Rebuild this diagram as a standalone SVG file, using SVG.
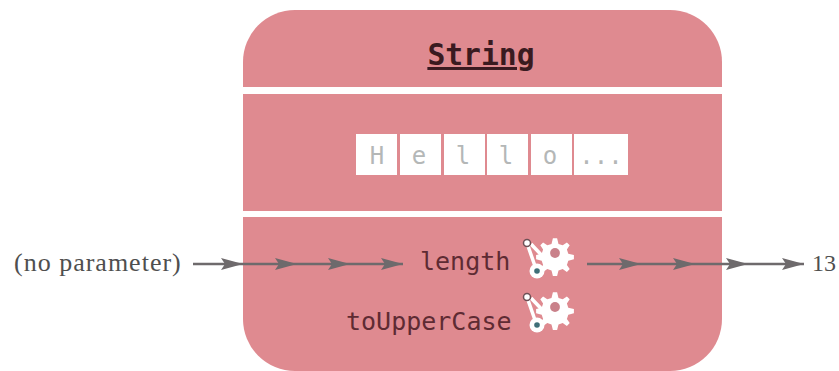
<svg xmlns="http://www.w3.org/2000/svg" width="839" height="371" viewBox="0 0 839 371">
<style>
.mono{font-family:"DejaVu Sans Mono",monospace}
.serif{font-family:"Liberation Serif",serif;font-size:26px;fill:#4f4f4f}
.cell{fill:#fff}
.ch{font-size:24px;fill:#b4b7b7;text-anchor:middle}
.m{font-size:25px;fill:#5e2b33}
.line{stroke:#6e6a6c;stroke-width:2.500;fill:none}
.head{fill:#6e6a6c}
.gear{fill:#fff}
</style>
<defs>
<marker id="a" markerWidth="22" markerHeight="12" refX="22" refY="6" orient="auto" markerUnits="userSpaceOnUse"><path d="M0 0L22 6L0 12L4 6Z" class="head"/></marker>
<g id="g">
<g transform="translate(28 10) scale(1.4) translate(-30.500 -3.500)">
<path d="M29 -7l3 0 1 4 3 1 3-2 2 2-2 3 1 3 4 1 0 3-4 1-1 3 2 3-2 2-3-2-3 1-1 4-3 0-1-4-3-1-3 2-2-2 2-3-1-3-4-1 0-3 4-1 1-3-2-3 2-2 3 2 3-1z" class="gear"/>
<circle cx="30.500" cy="3.500" r="3.500" fill="#c9818a"/>
</g>
<path d="M1 3L9 26M4 1L22 20M9 22L14 28" stroke="#fff" stroke-width="3.500" fill="none"/>
<circle cx="10" cy="28" r="7.500" fill="#fff"/>
<circle cx="10" cy="28" r="2.800" fill="#3f6f78"/>
<circle cx="0" cy="0" r="3.500" fill="#fff" stroke="#6e5056" stroke-width="1.500"/>
</g>
</defs>
<g id="string-object">
<rect x="243" y="10" width="479" height="361" rx="52" fill="#df8a90"/>
<rect x="243" y="87" width="479" height="7" fill="#fff"/>
<rect x="243" y="211" width="479" height="6" fill="#fff"/>
</g>
<g id="title"><text class="mono" x="481" y="65" text-anchor="middle" font-size="29.700" font-weight="700" fill="#3a1a20" text-decoration="underline">String</text></g>
<g id="value">
<rect class="cell" x="356" y="134" width="41" height="41"/>
<rect class="cell" x="400" y="134" width="41" height="41"/>
<rect class="cell" x="444" y="134" width="41" height="41"/>
<rect class="cell" x="487" y="134" width="41" height="41"/>
<rect class="cell" x="531" y="134" width="41" height="41"/>
<rect class="cell" x="574" y="134" width="54" height="41"/>
<g class="mono">
<text class="ch" x="377" y="164">H</text>
<text class="ch" x="419" y="164">e</text>
<text class="ch" x="463" y="164">l</text>
<text class="ch" x="506" y="164">l</text>
<text class="ch" x="550" y="164">o</text>
<text class="ch" x="601" y="164">...</text>
</g>
</g>
<g id="connectors">
<path class="line" d="M193 264H243" marker-end="url(#a)"/>
<path class="line" d="M243 264H297" marker-end="url(#a)"/>
<path class="line" d="M297 264H350" marker-end="url(#a)"/>
<path class="line" d="M350 264H403" marker-end="url(#a)"/>
<path class="line" d="M587 264H641" marker-end="url(#a)"/>
<path class="line" d="M641 264H695" marker-end="url(#a)"/>
<path class="line" d="M695 264H748" marker-end="url(#a)"/>
<path class="line" d="M748 264H804" marker-end="url(#a)"/>
</g>
<g id="input"><text class="serif" x="14" y="271" letter-spacing="1">(no parameter)</text></g>
<g id="output"><text class="serif" x="812" y="271" style="font-size:24px">13</text></g>
<g id="length"><text class="mono m" x="420" y="270">length</text><use href="#g" x="527" y="243"/></g>
<g id="toUpperCase"><text class="mono m" x="346" y="330">toUpperCase</text><use href="#g" x="527" y="297"/></g>
</svg>
